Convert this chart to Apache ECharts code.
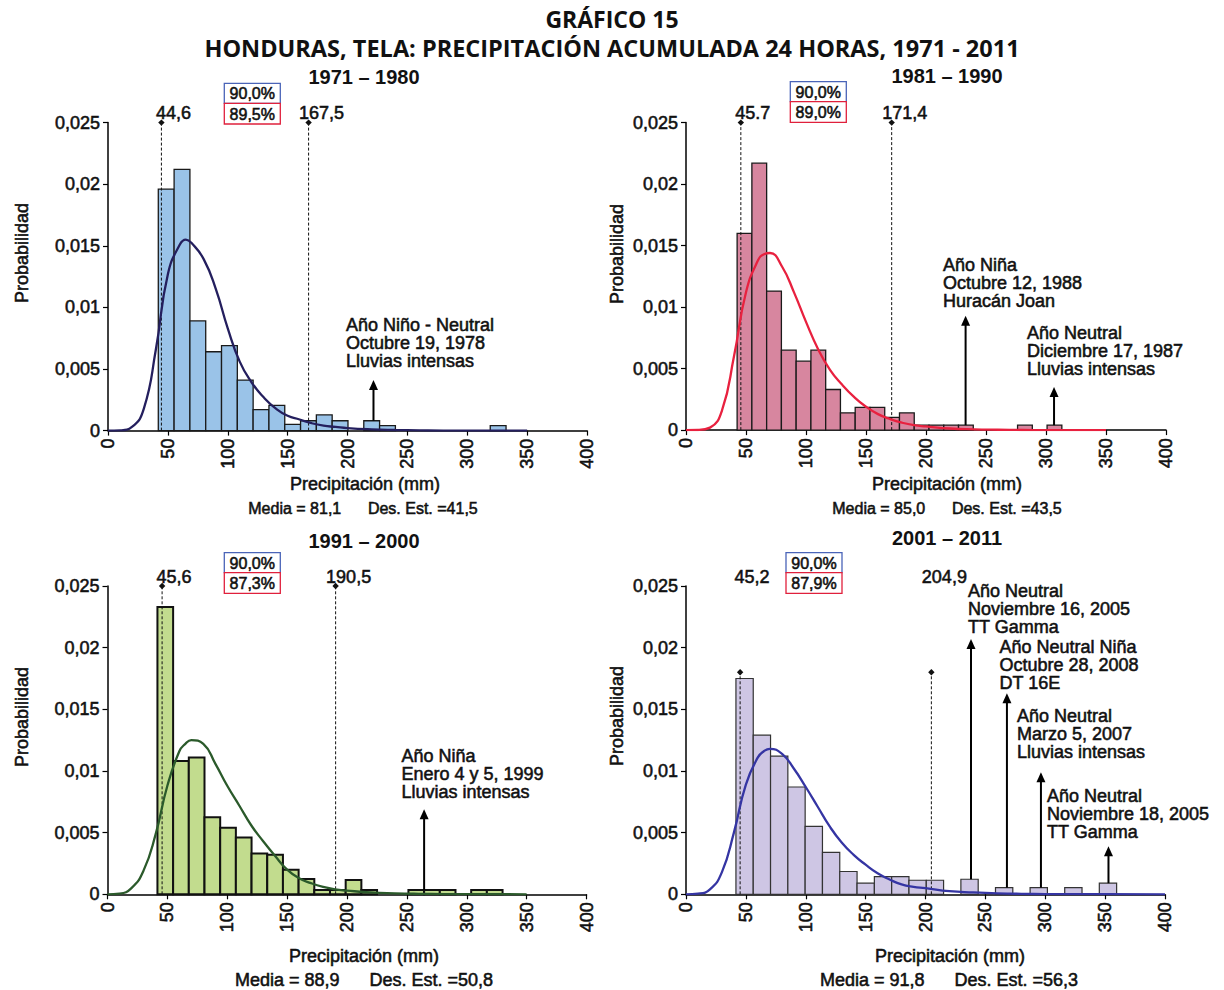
<!DOCTYPE html>
<html><head><meta charset="utf-8">
<script src="https://cdn.jsdelivr.net/npm/echarts@6/dist/echarts.min.js"></script>
<style>html,body{margin:0;padding:0;background:#fff}#c{width:1224px;height:990px}</style>
</head><body><div id="c"></div>
<script>
// ---------------- DATA ----------------
const periods = ['1971 – 1980', '1981 – 1990', '1991 – 2000', '2001 – 2011'];
const xTicks = [0, 50, 100, 150, 200, 250, 300, 350, 400];
const yTickLabels = ['0', '0,005', '0,01', '0,015', '0,02', '0,025'];

// histogram bins: first bin start and bin width (mm)
const binStarts = [42.0, 42.6, 41.7, 41.7];
const binWidths = [13.2, 12.3, 13.1, 14.45];

const freq1 = [0.0196, 0.0212, 0.0089, 0.0064, 0.0069, 0.0041, 0.0017, 0.00205, 0.0005, 0.0008, 0.00127, 0.0008, 0, 0.0008, 0.0004, 0, 0, 0, 0, 0, 0, 0.0004];
const freq2 = [0.0160, 0.0217, 0.0113, 0.0065, 0.0056, 0.0065, 0.0033, 0.0014, 0.00185, 0.00185, 0.00103, 0.0014, 0.0004, 0.0004, 0.0004, 0.0004, 0, 0, 0, 0.0004, 0, 0.0004];
const freq3 = [0.0233, 0.0108, 0.0111, 0.00625, 0.0054, 0.0046, 0.0033, 0.0032, 0.0020, 0.00124, 0.00035, 0.00035, 0.00116, 0.00035, 0, 0, 0.00035, 0.00035, 0.00035, 0, 0.00035, 0.00035];
const freq4 = [0.0175, 0.0129, 0.0112, 0.0087, 0.0055, 0.0034, 0.00185, 0.0009, 0.00144, 0.00144, 0.00114, 0.00114, 0, 0.00122, 0, 0.00054, 0, 0.00054, 0, 0.00054, 0, 0.0009];

// fitted density curves
const curveX = [0, 10, 20, 30, 40, 50, 60, 65, 70, 80, 90, 100, 110, 120, 130, 140, 150, 160, 170, 180, 190, 200, 220, 240, 260, 280, 300, 350, 400];
const dens1 = [0, 0.00002, 0.0003, 0.0018, 0.0066, 0.0127, 0.0151, 0.0155, 0.0152, 0.0139, 0.0115, 0.0083, 0.0056, 0.0039, 0.0027, 0.0018, 0.0012, 0.0009, 0.0006, 0.0004, 0.0003, 0.0002, 0.0001, 0.00005, 0.00002, 0, 0, 0, null];
const dens2 = [0, 0.00001, 0.0002, 0.0016, 0.0060, 0.0112, 0.0138, 0.0143, 0.0144, 0.0133, 0.0112, 0.0088, 0.0066, 0.0049, 0.0037, 0.0027, 0.0019, 0.0013, 0.0009, 0.0006, 0.0004, 0.0003, 0.00013, 0.00006, 0.00003, 0.00001, 0, 0, null];
const dens3 = [0, 0.00005, 0.0005, 0.0019, 0.0048, 0.0088, 0.0116, 0.0122, 0.0125, 0.0122, 0.0106, 0.0088, 0.0072, 0.0056, 0.0043, 0.0031, 0.0020, 0.0013, 0.0009, 0.0006, 0.0004, 0.0003, 0.00015, 0.00008, 0.00004, 0.00002, 0.00001, 0, null];
const dens4 = [0, 0.00005, 0.0004, 0.0018, 0.0050, 0.0089, 0.0111, 0.0116, 0.0118, 0.0114, 0.0102, 0.0087, 0.0071, 0.0055, 0.0042, 0.0032, 0.0024, 0.0017, 0.0012, 0.0008, 0.0006, 0.0005, 0.00025, 0.00015, 0.00008, 0.00004, 0.00002, 0.00001, 0];

// 90% interval limits
const lowLim = [44.6, 45.7, 45.6, 45.2];
const highLim = [167.5, 171.4, 190.5, 204.9];
const lowLabel = ['44,6', '45.7', '45,6', '45,2'];
const highLabel = ['167,5', '171,4', '190,5', '204,9'];
const limTop = [0.025, 0.025, 0.025, 0.018];
const pctNominal = ['90,0%', '90,0%', '90,0%', '90,0%'];
const pctObserved = ['89,5%', '89,0%', '87,3%', '87,9%'];
const means = ['81,1', '85,0', '88,9', '91,8'];
const stdDevs = ['41,5', '43,5', '50,8', '56,3'];

// extreme events: x (mm), arrow base and tip (probability)
const eventX1 = [221.7], eventBase1 = [0.0008], eventTip1 = [0.0041];
const eventX2 = [233, 306.7], eventBase2 = [0.0004, 0.0004], eventTip2 = [0.0093, 0.0035];
const eventX3 = [264.4], eventBase3 = [0.00035], eventTip3 = [0.0069];
const eventX4 = [238, 268, 296.4, 352.8], eventBase4 = [0.00122, 0.00054, 0.00054, 0.0009], eventTip4 = [0.0207, 0.0163, 0.0099, 0.0039];
const eventText1 = ['Año Niño - Neutral\nOctubre 19, 1978\nLluvias intensas'];
const eventText2 = ['Año Niña\nOctubre 12, 1988\nHuracán Joan', 'Año Neutral\nDiciembre 17, 1987\nLluvias intensas'];
const eventText3 = ['Año Niña\nEnero 4 y 5, 1999\nLluvias intensas'];
const eventText4 = ['Año Neutral\nNoviembre 16, 2005\nTT Gamma', 'Año Neutral Niña\nOctubre 28, 2008\nDT 16E', 'Año Neutral\nMarzo 5, 2007\nLluvias intensas', 'Año Neutral\nNoviembre 18, 2005\nTT Gamma'];

// ---------------- LAYOUT / STYLE ----------------
const FONT = '"Liberation Sans", Arial, Helvetica, sans-serif';
const TITLE_FONT = '"Open Sans", Lato, sans-serif';
const TXT = '#111';
const HEAVY = 0.55; // text stroke to mimic the heavier print weight
const grids = [
  { left: 108, top: 122.6, width: 479, height: 308 },
  { left: 686, top: 122.6, width: 480, height: 307.5 },
  { left: 107.5, top: 586, width: 479, height: 308.3 },
  { left: 686, top: 586, width: 479, height: 308.3 }
];
const barFill = ['#9ac3e8', '#d7869f', '#c2dc8e', '#cec6e4'];
const barStroke = ['#1a1a1a', '#1a1a1a', '#111', '#333'];
const barLW = [1.3, 1.3, 2, 1.2];
const curveColor = ['#241f5e', '#e8213f', '#2b5a2b', '#3535a3'];
const titlePos = [[364, 77], [947, 76], [364, 541], [947, 538]];
const yNamePos = [[21.5, 253], [617, 254], [21.5, 717], [617, 716]];
const xNamePos = [[365, 484], [947, 484], [364, 956], [950, 956]];
const statPos = [[363, 508], [947, 508], [364, 980], [949, 980]];
const statSize = [16, 16, 18, 18];
const boxPos = [[224.3, 83.3], [790.3, 81.7], [224.3, 552.7], [786, 552.7]];
const eventTextPos = [
  [[346, 316]],
  [[943, 256], [1027, 323.7]],
  [[401.5, 747]],
  [[968, 582], [999.5, 638.3], [1017, 706.7], [1047, 787]]
];

const freqs = [freq1, freq2, freq3, freq4];
const dens = [dens1, dens2, dens3, dens4];
const evX = [eventX1, eventX2, eventX3, eventX4];
const evB = [eventBase1, eventBase2, eventBase3, eventBase4];
const evT = [eventTip1, eventTip2, eventTip3, eventTip4];
const evText = [eventText1, eventText2, eventText3, eventText4];

const chart = echarts.init(document.getElementById('c'), null, { renderer: 'svg', width: 1224, height: 990 });

const gridOpts = [], xAxes = [], yAxes = [], series = [], graphics = [];

function txt(text, x, y, size, opts) {
  opts = opts || {};
  return {
    type: 'text', x: x, y: y, rotation: opts.rotation || 0, z: 100,
    style: {
      text: text, x: 0, y: 0,
      font: (opts.weight || 'normal') + ' ' + size + 'px ' + (opts.family || FONT),
      fill: TXT, stroke: opts.noStroke ? null : TXT, lineWidth: opts.noStroke ? 0 : (opts.stroke || HEAVY),
      textAlign: opts.align || 'center', align: opts.align || 'center',
      textVerticalAlign: opts.valign || 'middle', verticalAlign: opts.valign || 'middle',
      lineHeight: opts.lineHeight || undefined
    }
  };
}

graphics.push(txt('GRÁFICO 15', 612, 19, 23, { weight: 'bold', family: TITLE_FONT, noStroke: true }));
graphics.push(txt('HONDURAS, TELA: PRECIPITACIÓN ACUMULADA 24 HORAS, 1971 - 2011', 612, 48, 23.5, { weight: 'bold', family: TITLE_FONT, noStroke: true }));

for (let p = 0; p < 4; p++) {
  const g = grids[p];
  gridOpts.push({ left: g.left, top: g.top, width: g.width, height: g.height, containLabel: false, outerBoundsMode: 'none' });
  xAxes.push({
    type: 'value', gridIndex: p, min: 0, max: 400, interval: 50,
    axisLine: { show: true, onZero: false, lineStyle: { color: '#000', width: 1.5 } },
    axisTick: { show: true, length: 5, lineStyle: { color: '#000', width: 1.2 } },
    splitLine: { show: false },
    axisLabel: { rotate: 90, margin: 8, fontSize: 18, fontFamily: FONT, color: TXT, textBorderColor: TXT, textBorderWidth: HEAVY,
      formatter: v => String(xTicks[Math.round(v / 50)]) }
  });
  yAxes.push({
    type: 'value', gridIndex: p, min: 0, max: 0.025, interval: 0.005,
    axisLine: { show: true, onZero: false, lineStyle: { color: '#000', width: 1.5 } },
    axisTick: { show: true, length: 5, lineStyle: { color: '#000', width: 1.2 } },
    splitLine: { show: false },
    axisLabel: { margin: 8, fontSize: 18, fontFamily: FONT, color: TXT, textBorderColor: TXT, textBorderWidth: HEAVY,
      formatter: v => yTickLabels[Math.round(v / 0.005)] }
  });

  // histogram bars
  const bs = binStarts[p], bw = binWidths[p];
  series.push({
    type: 'custom', xAxisIndex: p, yAxisIndex: p, z: 2, silent: true, clip: false,
    data: freqs[p].map((v, i) => [bs + i * bw, bs + (i + 1) * bw, v]),
    encode: { x: [0, 1], y: 2 },
    renderItem: (params, api) => {
      const v = api.value(2);
      if (!v) return null;
      const a = api.coord([api.value(0), v]);
      const b = api.coord([api.value(1), 0]);
      return { type: 'rect', shape: { x: a[0], y: a[1], width: b[0] - a[0], height: b[1] - a[1] },
        style: { fill: barFill[p], stroke: barStroke[p], lineWidth: barLW[p] } };
    }
  });

  // limit lines
  series.push({
    type: 'custom', xAxisIndex: p, yAxisIndex: p, z: 4, silent: true, clip: false,
    data: [[lowLim[p], limTop[p], 0], [highLim[p], limTop[p], 1]],
    encode: { x: 0, y: 1 },
    renderItem: (params, api) => {
      const x = api.value(0), top = api.value(1), idx = api.value(2);
      const p0 = api.coord([x, 0]);
      const p1 = api.coord([x, top]);
      const pl = api.coord([x, 0.025]);
      const d = 3.2;
      return { type: 'group', children: [
        { type: 'line', shape: { x1: p0[0], y1: p0[1], x2: p1[0], y2: p1[1] }, style: { stroke: '#111', lineWidth: 1, lineDash: [3, 2] } },
        { type: 'polygon', shape: { points: [[p1[0], p1[1] - d], [p1[0] + d, p1[1]], [p1[0], p1[1] + d], [p1[0] - d, p1[1]]] }, style: { fill: '#111' } },
        { type: 'text', style: { text: idx ? highLabel[p] : lowLabel[p], x: p1[0] + (idx ? 13 : 12), y: pl[1] - 9.5,
            font: 'normal 18px ' + FONT, fill: TXT, stroke: TXT, lineWidth: HEAVY, align: 'center', verticalAlign: 'middle', textAlign: 'center', textVerticalAlign: 'middle' } }
      ] };
    }
  });

  // density curve
  series.push({
    type: 'line', xAxisIndex: p, yAxisIndex: p, z: 5, silent: true, showSymbol: false, symbol: 'none',
    smooth: 0.5, connectNulls: false,
    lineStyle: { color: curveColor[p], width: 2.3 },
    data: curveX.map((x, i) => [x, dens[p][i]])
  });

  // event arrows
  series.push({
    type: 'custom', xAxisIndex: p, yAxisIndex: p, z: 6, silent: true, clip: false,
    data: evX[p].map((x, i) => [x, evB[p][i], evT[p][i]]),
    encode: { x: 0, y: [1, 2] },
    renderItem: (params, api) => {
      const a = api.coord([api.value(0), api.value(1)]);
      const b = api.coord([api.value(0), api.value(2)]);
      const hw = 4.5, hh = 10;
      return { type: 'group', children: [
        { type: 'line', shape: { x1: a[0], y1: a[1], x2: b[0], y2: b[1] + hh - 1 }, style: { stroke: '#000', lineWidth: 2 } },
        { type: 'polygon', shape: { points: [[b[0], b[1]], [b[0] + hw, b[1] + hh], [b[0] - hw, b[1] + hh]] }, style: { fill: '#000' } }
      ] };
    }
  });

  // texts
  graphics.push(txt(periods[p], titlePos[p][0], titlePos[p][1], 20, { weight: 'bold', noStroke: true }));
  graphics.push(txt('Probabilidad', yNamePos[p][0], yNamePos[p][1], 18, { rotation: Math.PI / 2 }));
  graphics.push(txt('Precipitación (mm)', xNamePos[p][0], xNamePos[p][1], 18));
  graphics.push(txt('Media = ' + means[p] + '      Des. Est. =' + stdDevs[p], statPos[p][0], statPos[p][1], statSize[p]));
  const bx = boxPos[p][0], by = boxPos[p][1];
  graphics.push({ type: 'rect', z: 99, shape: { x: bx, y: by, width: 56, height: 20 }, style: { fill: '#fff', stroke: '#4a64b8', lineWidth: 1.3 } });
  graphics.push({ type: 'rect', z: 99, shape: { x: bx, y: by + 20, width: 56, height: 20.7 }, style: { fill: '#fff', stroke: '#e0203c', lineWidth: 1.3 } });
  graphics.push(txt(pctNominal[p], bx + 28, by + 10.5, 16));
  graphics.push(txt(pctObserved[p], bx + 28, by + 30.8, 16));
  evText[p].forEach((t, i) => {
    graphics.push(txt(t, eventTextPos[p][i][0], eventTextPos[p][i][1], 18, { align: 'left', valign: 'top', lineHeight: 18 }));
  });
}

chart.setOption({
  animation: false,
  backgroundColor: '#fff',
  grid: gridOpts, xAxis: xAxes, yAxis: yAxes, series: series,
  graphic: { elements: graphics }
});
</script>
</body></html>
